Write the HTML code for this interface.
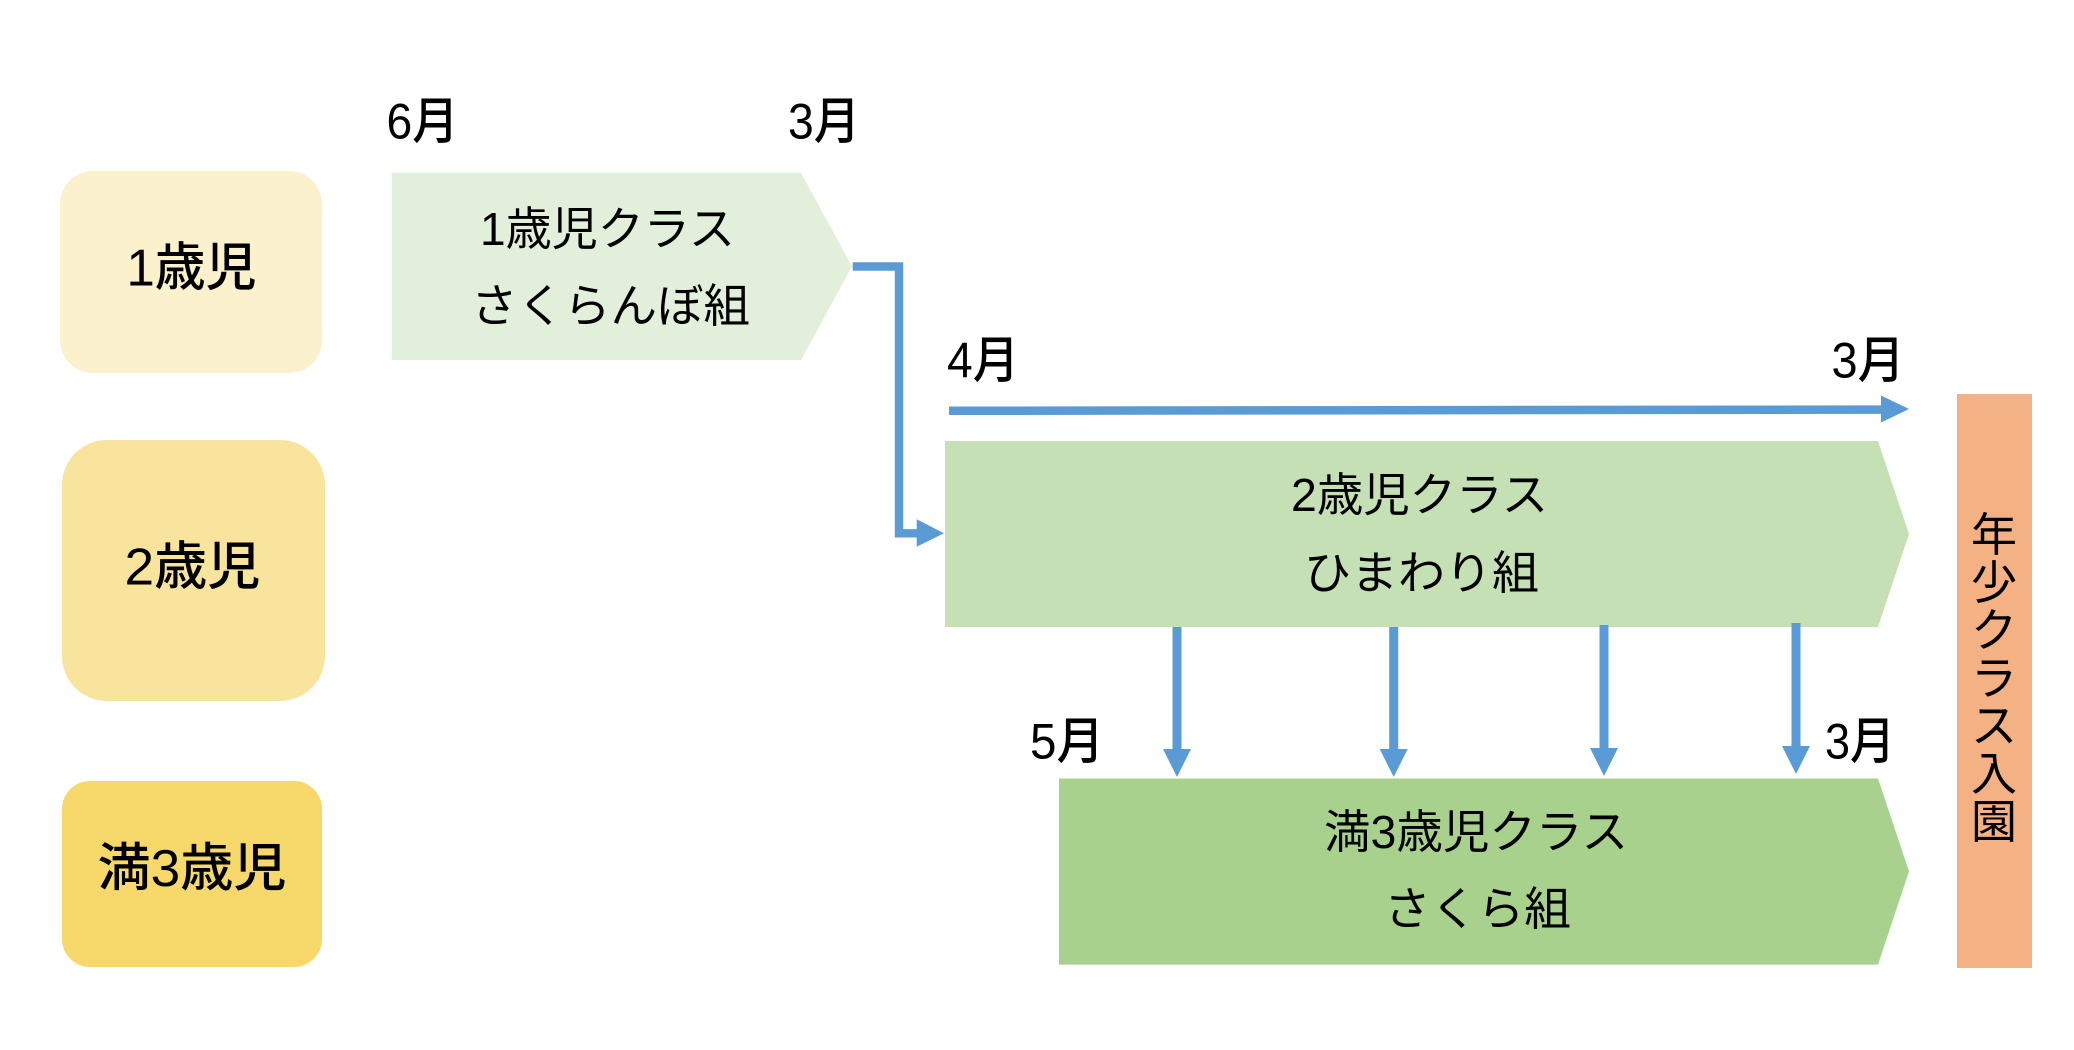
<!DOCTYPE html>
<html>
<head>
<meta charset="utf-8">
<style>
  html, body { margin: 0; padding: 0; background: #ffffff; }
  body { width: 2074px; height: 1050px; overflow: hidden; }
  svg { display: block; }
  text { font-family: "Liberation Sans", "Noto Sans CJK JP", sans-serif; fill: #000; dominant-baseline: central; text-anchor: middle; }
  .m { font-size: 50px; font-weight: 500; }
  .b { font-size: 52px; font-weight: 500; }
  .p { font-size: 46px; }
  .v { font-size: 46px; }
</style>
</head>
<body>
<svg width="2074" height="1050" viewBox="0 0 2074 1050" xmlns="http://www.w3.org/2000/svg">
  <rect x="0" y="0" width="2074" height="1050" fill="#ffffff"/>

  <!-- left age boxes -->
  <rect x="60" y="171" width="262" height="202" rx="33" ry="33" fill="#FBF1CD"/>
  <rect x="62" y="440" width="263" height="261" rx="45" ry="45" fill="#F8E49D"/>
  <rect x="62" y="781" width="260" height="186" rx="28" ry="28" fill="#F6D86B"/>

  <text class="b" x="191.5" y="268.5" textLength="130" lengthAdjust="spacingAndGlyphs">1歳児</text>
  <text class="b" x="192.5" y="567.5" textLength="136" lengthAdjust="spacingAndGlyphs">2歳児</text>
  <text class="b" x="192" y="869" textLength="189" lengthAdjust="spacingAndGlyphs">満3歳児</text>

  <!-- pentagons -->
  <polygon points="391.7,172.7 801,172.7 852,266.5 801,360 391.7,360" fill="#E2EFDA"/>
  <polygon points="945,441 1878,441 1909,534 1878,627 945,627" fill="#C5E0B4"/>
  <polygon points="1059,778.5 1878,778.5 1909,871.5 1878,964.6 1059,964.6" fill="#A9D18E"/>

  <text class="p" x="607.5" y="229" textLength="255" lengthAdjust="spacingAndGlyphs">1歳児クラス</text>
  <text class="p" x="610.5" y="306" textLength="279" lengthAdjust="spacingAndGlyphs">さくらんぼ組</text>
  <text class="p" x="1419.5" y="495" textLength="257" lengthAdjust="spacingAndGlyphs">2歳児クラス</text>
  <text class="p" x="1421.5" y="573" textLength="235" lengthAdjust="spacingAndGlyphs">ひまわり組</text>
  <text class="p" x="1476" y="832" textLength="304" lengthAdjust="spacingAndGlyphs">満3歳児クラス</text>
  <text class="p" x="1477.5" y="909" textLength="187" lengthAdjust="spacingAndGlyphs">さくら組</text>

  <!-- month labels -->
  <text class="m" x="422.5" y="121.5" textLength="72" lengthAdjust="spacingAndGlyphs">6月</text>
  <text class="m" x="824" y="121.5" textLength="72" lengthAdjust="spacingAndGlyphs">3月</text>
  <text class="m" x="983" y="360.5" textLength="72" lengthAdjust="spacingAndGlyphs">4月</text>
  <text class="m" x="1868" y="360.5" textLength="73" lengthAdjust="spacingAndGlyphs">3月</text>
  <text class="m" x="1067" y="741.5" textLength="74" lengthAdjust="spacingAndGlyphs">5月</text>
  <text class="m" x="1860" y="741.5" textLength="70" lengthAdjust="spacingAndGlyphs">3月</text>

  <!-- elbow connector -->
  <polyline points="852.7,266.5 899,266.5 899,533.3 918,533.3" fill="none" stroke="#5B9BD5" stroke-width="8.4" stroke-linejoin="miter"/>
  <polygon points="916.7,519.3 944,533.3 916.7,546.7" fill="#5B9BD5"/>

  <!-- horizontal timeline arrow -->
  <line x1="949" y1="410.8" x2="1882" y2="409.6" stroke="#5B9BD5" stroke-width="8.5"/>
  <polygon points="1881,395.5 1909,409 1881,422.5" fill="#5B9BD5"/>

  <!-- down arrows -->
  <line x1="1177" y1="627" x2="1177" y2="750" stroke="#5B9BD5" stroke-width="9"/>
  <polygon points="1163,749 1191,749 1177,777" fill="#5B9BD5"/>
  <line x1="1393.7" y1="627" x2="1393.7" y2="750" stroke="#5B9BD5" stroke-width="9"/>
  <polygon points="1379.7,749 1407.7,749 1393.7,777" fill="#5B9BD5"/>
  <line x1="1604" y1="625" x2="1604" y2="749" stroke="#5B9BD5" stroke-width="9"/>
  <polygon points="1590,748 1618,748 1604,776" fill="#5B9BD5"/>
  <line x1="1796" y1="623" x2="1796" y2="747" stroke="#5B9BD5" stroke-width="9"/>
  <polygon points="1782,746 1810,746 1796,774" fill="#5B9BD5"/>

  <!-- right orange bar -->
  <rect x="1957" y="394" width="75" height="574" fill="#F4B183"/>
  <text class="v" x="1994" y="535">年</text>
  <text class="v" x="1994" y="582.8">少</text>
  <text class="v" x="1994" y="630.6">ク</text>
  <text class="v" x="1994" y="678.4">ラ</text>
  <text class="v" x="1994" y="726.2">ス</text>
  <text class="v" x="1994" y="774">入</text>
  <text class="v" x="1994" y="821.8">園</text>
</svg>
</body>
</html>
